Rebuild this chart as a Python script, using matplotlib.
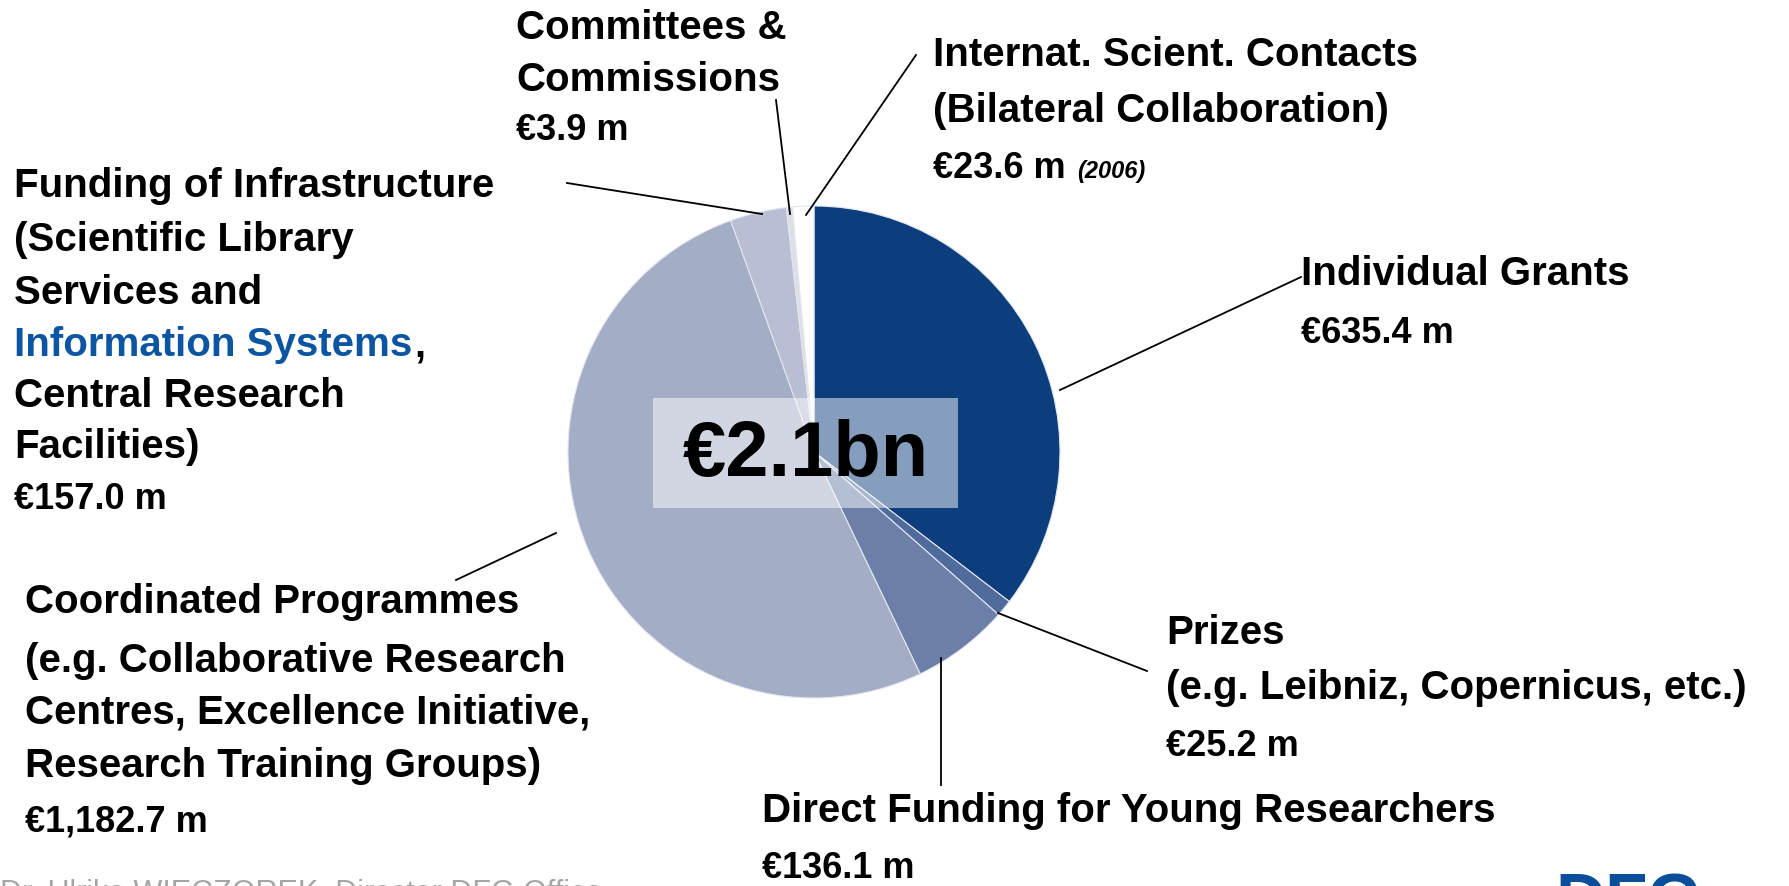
import matplotlib.pyplot as plt

plt.rcParams['font.family'] = ['Liberation Sans', 'DejaVu Sans']

# Budget categories, clockwise from the top of the pie
categories = ["Individual Grants", "Prizes", "Direct Funding for Young Researchers",
              "Coordinated Programmes", "Funding of Infrastructure",
              "Committees & Commissions", "Internat. Scient. Contacts"]
amounts = ["€635.4 m", "€25.2 m", "€136.1 m", "€1,182.7 m", "€157.0 m", "€3.9 m", "€23.6 m"]
# wedge shares (%) as drawn in the reference pie
shares = [35.4, 1.1, 6.4, 51.6, 3.7, 0.4, 1.4]
colors = ["#0c3d7d", "#4f6b9c", "#6b7fa8", "#a3adc6", "#b8bed3", "#dcdee8", "#ffffff"]
total_label = "€2.1bn"

W, H = 1789, 886
fig = plt.figure(figsize=(W / 100, H / 100), dpi=100)
ax = fig.add_axes([0, 0, 1, 1])

def Y(y):
    # pixel rows counted from the top
    return H - y

cx, cy, r = 814, 452, 246
ax.pie(shares, colors=colors, startangle=90, counterclock=False,
       center=(cx, Y(cy)), radius=r,
       wedgeprops=dict(edgecolor="#e4e6ee", linewidth=0.8))
ax.set_xlim(0, W)
ax.set_ylim(0, H)
ax.set_aspect("equal")
ax.axis("off")

# total in the middle
ax.add_patch(plt.Rectangle((653, Y(508)), 305, 110, facecolor="white",
                           alpha=0.5, edgecolor="none", zorder=3))
ax.text(806, Y(455), total_label, fontsize=56, fontweight="bold",
        ha="center", va="center", zorder=4)

big = dict(fontsize=29, fontweight="bold", va="center", color="black")
small = dict(fontsize=26, fontweight="bold", va="center", color="black")

def block(x, ys, lines, amount_y, amount):
    for y, s in zip(ys, lines):
        ax.text(x, Y(y), s, **big)
    return ax.text(x, Y(amount_y), amount, **small)

# Committees
block(516, [28, 80], ["Committees &", "Commissions"], 130, amounts[5])

# International contacts
t = block(933, [55, 111], ["Internat. Scient. Contacts", "(Bilateral Collaboration)"],
          168, amounts[6])
fig.canvas.draw()
bb = t.get_window_extent()
x_end = ax.transData.inverted().transform((bb.x1, bb.y0))[0]
ax.text(x_end + 12, Y(171), "(2006)", fontsize=17, fontweight="bold",
        style="italic", va="center")

# Infrastructure (one line partly blue)
ax.text(14, Y(186), "Funding of Infrastructure", **big)
ax.text(14, Y(240), "(Scientific Library", **big)
ax.text(14, Y(293), "Services and", **big)
blue = ax.text(14, Y(345), "Information Systems", fontsize=29, fontweight="bold",
               va="center", color="#0b55a2")
ax.text(14, Y(396), "Central Research", **big)
ax.text(14, Y(447), "Facilities)", **big)
ax.text(14, Y(499), amounts[4], **small)
fig.canvas.draw()
bb = blue.get_window_extent()
x_end = ax.transData.inverted().transform((bb.x1, bb.y0))[0]
ax.text(x_end + 2, Y(345), ",", **big)

# Coordinated programmes
block(25, [602, 661, 713, 766],
      ["Coordinated Programmes", "(e.g. Collaborative Research",
       "Centres, Excellence Initiative,", "Research Training Groups)"],
      822, amounts[3])

# Individual grants
block(1301, [274], ["Individual Grants"], 333, amounts[0])

# Prizes
block(1166, [633, 688], ["Prizes", "(e.g. Leibniz, Copernicus, etc.)"], 747, amounts[1])

# Young researchers
block(762, [811], ["Direct Funding for Young Researchers"], 869, amounts[2])

# leader lines
leaders = [((1060, 390), (1301, 277)),
           ((998, 613), (1147, 671)),
           ((941, 658), (941, 785)),
           ((456, 580), (556, 533)),
           ((567, 183), (762, 214)),
           ((776, 100), (790, 214)),
           ((916, 55), (806, 215))]
for (x0, y0), (x1, y1) in leaders:
    ax.plot([x0, x1], [Y(y0), Y(y1)], color="black", linewidth=1.3, zorder=5)

# footer, cut off by the bottom edge as in the slide
ax.text(0, Y(879), "Dr. Ulrike WIECZOREK, Director DFG Office", fontsize=22,
        color="#a6a6a6", va="top")
ax.text(1555, Y(872), "DFG", fontsize=50, fontweight="bold", color="#0b4f9c", va="top")

fig.savefig("out.png", dpi=100)
